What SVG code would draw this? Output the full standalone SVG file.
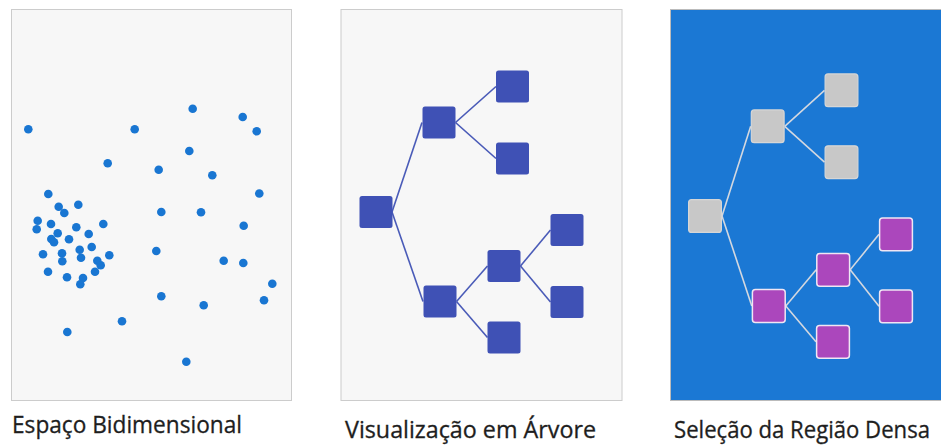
<svg xmlns="http://www.w3.org/2000/svg" width="941" height="446" viewBox="0 0 941 446">
  <style>
    .panel { fill: #F7F7F7; stroke: #CCCCCC; stroke-width: 1; }
    .panel-sel { fill: #1B78D4; stroke: #BBBBBB; stroke-width: 1; }
    .pt { fill: #1976D2; }
    .tn { fill: #3F51B5; }
    .tl { stroke: #4A5BB8; stroke-width: 1.6; fill: none; }
    .gn { fill: #C8C8C8; stroke: #D6D6D6; stroke-width: 1.2; }
    .pn { fill: #AB47BC; stroke: #F0E6F4; stroke-width: 1.5; }
    .sl { stroke: #D4D8E0; stroke-width: 1.6; fill: none; }
    .cap { font-family: "Open Sans", "Noto Sans", "Liberation Sans", sans-serif; font-size: 23px; fill: #1E1E1E; stroke: #1E1E1E; stroke-width: 0.3; }
  </style>

  <!-- Panel 1: scatter of points in 2D -->
  <g id="scatter">
    <rect class="panel" x="11.5" y="9.5" width="280" height="391"/>
    <g id="points">
      <circle class="pt" cx="28.3" cy="129.3" r="4.3"/>
      <circle class="pt" cx="134.7" cy="129.3" r="4.3"/>
      <circle class="pt" cx="192.7" cy="108.7" r="4.3"/>
      <circle class="pt" cx="242.7" cy="117" r="4.3"/>
      <circle class="pt" cx="256.7" cy="131.3" r="4.3"/>
      <circle class="pt" cx="189.3" cy="151" r="4.3"/>
      <circle class="pt" cx="107.7" cy="163.3" r="4.3"/>
      <circle class="pt" cx="158.7" cy="169.7" r="4.3"/>
      <circle class="pt" cx="212.3" cy="175.3" r="4.3"/>
      <circle class="pt" cx="48.3" cy="194" r="4.3"/>
      <circle class="pt" cx="259.3" cy="193.5" r="4.3"/>
      <circle class="pt" cx="58.7" cy="206.7" r="4.3"/>
      <circle class="pt" cx="78.3" cy="204.7" r="4.3"/>
      <circle class="pt" cx="64.3" cy="213" r="4.3"/>
      <circle class="pt" cx="161.3" cy="212" r="4.3"/>
      <circle class="pt" cx="201" cy="212.3" r="4.3"/>
      <circle class="pt" cx="37.7" cy="220.7" r="4.3"/>
      <circle class="pt" cx="51" cy="224" r="4.3"/>
      <circle class="pt" cx="36.7" cy="229.3" r="4.3"/>
      <circle class="pt" cx="76.3" cy="227.3" r="4.3"/>
      <circle class="pt" cx="103.3" cy="224" r="4.3"/>
      <circle class="pt" cx="243.7" cy="225.7" r="4.3"/>
      <circle class="pt" cx="57.7" cy="233.3" r="4.3"/>
      <circle class="pt" cx="88.7" cy="234" r="4.3"/>
      <circle class="pt" cx="51.3" cy="239" r="4.3"/>
      <circle class="pt" cx="54" cy="242.3" r="4.3"/>
      <circle class="pt" cx="69" cy="239.3" r="4.3"/>
      <circle class="pt" cx="91.7" cy="247" r="4.3"/>
      <circle class="pt" cx="79.7" cy="249.7" r="4.3"/>
      <circle class="pt" cx="43" cy="254.3" r="4.3"/>
      <circle class="pt" cx="62" cy="253.3" r="4.3"/>
      <circle class="pt" cx="81" cy="257.7" r="4.3"/>
      <circle class="pt" cx="109.3" cy="255.3" r="4.3"/>
      <circle class="pt" cx="156.3" cy="251" r="4.3"/>
      <circle class="pt" cx="62.3" cy="261.3" r="4.3"/>
      <circle class="pt" cx="97.3" cy="260.7" r="4.3"/>
      <circle class="pt" cx="100.7" cy="265.3" r="4.3"/>
      <circle class="pt" cx="223.7" cy="260.7" r="4.3"/>
      <circle class="pt" cx="243.3" cy="263" r="4.3"/>
      <circle class="pt" cx="48" cy="271.7" r="4.3"/>
      <circle class="pt" cx="95" cy="271.7" r="4.3"/>
      <circle class="pt" cx="67" cy="277.3" r="4.3"/>
      <circle class="pt" cx="83" cy="278" r="4.3"/>
      <circle class="pt" cx="80.3" cy="284.3" r="4.3"/>
      <circle class="pt" cx="272.3" cy="283.7" r="4.3"/>
      <circle class="pt" cx="161.3" cy="296.3" r="4.3"/>
      <circle class="pt" cx="203.7" cy="305.3" r="4.3"/>
      <circle class="pt" cx="264" cy="300.3" r="4.3"/>
      <circle class="pt" cx="122" cy="321.3" r="4.3"/>
      <circle class="pt" cx="67.3" cy="332" r="4.3"/>
      <circle class="pt" cx="186.3" cy="361.7" r="4.3"/>
    </g>
    <text class="cap" x="12" y="433" textLength="230" lengthAdjust="spacingAndGlyphs">Espaço Bidimensional</text>
  </g>

  <!-- Panel 2: tree view -->
  <g id="tree">
    <rect class="panel" x="341" y="9.5" width="281" height="391"/>
    <g id="tree-edges">
      <line class="tl" x1="392" y1="212" x2="422" y2="122.5"/>
      <line class="tl" x1="392" y1="212" x2="423" y2="301.5"/>
      <line class="tl" x1="455.5" y1="122.5" x2="496" y2="86.5"/>
      <line class="tl" x1="455.5" y1="122.5" x2="496" y2="158.5"/>
      <line class="tl" x1="456.5" y1="301.5" x2="487.5" y2="266"/>
      <line class="tl" x1="456.5" y1="301.5" x2="487.5" y2="337.5"/>
      <line class="tl" x1="520.5" y1="266" x2="550.5" y2="230"/>
      <line class="tl" x1="520.5" y1="266" x2="550.5" y2="302"/>
    </g>
    <g id="t-root"><rect class="tn" x="359.5" y="196" width="33" height="32" rx="2.5"/></g>
    <g id="t-a"><rect class="tn" x="422.5" y="106.5" width="33" height="32" rx="2.5"/></g>
    <g id="t-a1"><rect class="tn" x="496" y="70.5" width="33" height="32" rx="2.5"/></g>
    <g id="t-a2"><rect class="tn" x="496" y="142.5" width="33" height="32" rx="2.5"/></g>
    <g id="t-b"><rect class="tn" x="423.5" y="285.5" width="33" height="32" rx="2.5"/></g>
    <g id="t-b1"><rect class="tn" x="487.5" y="250" width="33" height="32" rx="2.5"/></g>
    <g id="t-b2"><rect class="tn" x="487.5" y="321.5" width="33" height="32" rx="2.5"/></g>
    <g id="t-b11"><rect class="tn" x="550.5" y="214" width="33" height="32" rx="2.5"/></g>
    <g id="t-b12"><rect class="tn" x="550.5" y="286" width="33" height="32" rx="2.5"/></g>
    <text class="cap" x="345" y="437.5" textLength="251" lengthAdjust="spacingAndGlyphs">Visualização em Árvore</text>
  </g>

  <!-- Panel 3: dense region highlighted in the tree -->
  <g id="selection">
    <rect class="panel-sel" x="670.5" y="9.5" width="281" height="391"/>
    <g id="selection-edges">
      <line class="sl" x1="722" y1="216" x2="750.7" y2="126.3"/>
      <line class="sl" x1="722" y1="216" x2="751.8" y2="306"/>
      <line class="sl" x1="784.7" y1="126.3" x2="824.5" y2="90.3"/>
      <line class="sl" x1="784.7" y1="126.3" x2="824.5" y2="162.2"/>
      <line class="sl" x1="785.8" y1="306" x2="816.2" y2="269.8"/>
      <line class="sl" x1="785.8" y1="306" x2="816" y2="341.8"/>
      <line class="sl" x1="850.2" y1="269.8" x2="879" y2="234.3"/>
      <line class="sl" x1="850.2" y1="269.8" x2="879" y2="306.3"/>
    </g>
    <g id="s-root"><rect class="gn" x="688.6" y="199.6" width="32.8" height="32.8" rx="3"/></g>
    <g id="s-a"><rect class="gn" x="751.3" y="109.9" width="32.8" height="32.8" rx="3"/></g>
    <g id="s-a1"><rect class="gn" x="825.1" y="73.9" width="32.8" height="32.8" rx="3"/></g>
    <g id="s-a2"><rect class="gn" x="825.1" y="145.8" width="32.8" height="32.8" rx="3"/></g>
    <g id="s-b"><rect class="pn" x="752.4" y="289.6" width="32.8" height="32.8" rx="3"/></g>
    <g id="s-b1"><rect class="pn" x="816.8" y="253.4" width="32.8" height="32.8" rx="3"/></g>
    <g id="s-b2"><rect class="pn" x="816.6" y="325.4" width="32.8" height="32.8" rx="3"/></g>
    <g id="s-b11"><rect class="pn" x="879.6" y="217.9" width="32.8" height="32.8" rx="3"/></g>
    <g id="s-b12"><rect class="pn" x="879.6" y="289.9" width="32.8" height="32.8" rx="3"/></g>
    <text class="cap" x="674" y="437.5" textLength="256" lengthAdjust="spacingAndGlyphs">Seleção da Região Densa</text>
  </g>
</svg>
